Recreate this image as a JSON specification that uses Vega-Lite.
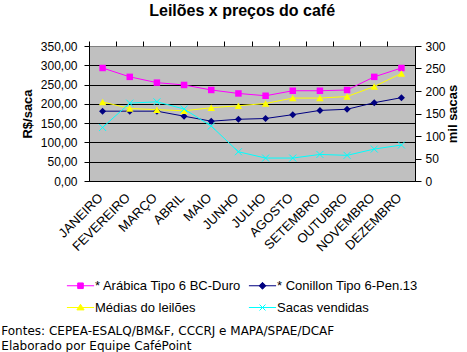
{
  "$schema": "https://vega.github.io/schema/vega-lite/v6.json",
  "background": "white",
  "padding": {"left": 0, "top": 2, "right": 0, "bottom": 0},
  "autosize": {"type": "pad"},
  "config": {"font": "Liberation Sans", "view": {"stroke": null}, "concat": {"spacing": 0}},
  "title": {"text": "Leilões x preços do café", "fontSize": 16, "fontWeight": "bold", "font": "Liberation Sans", "color": "black", "anchor": "middle", "offset": 21, "dx": 12},
  "datasets": {
    "d": [
      {"mes": "JANEIRO", "serie": "* Arábica  Tipo 6 BC-Duro", "valor": 293},
      {"mes": "FEVEREIRO", "serie": "* Arábica  Tipo 6 BC-Duro", "valor": 270},
      {"mes": "MARÇO", "serie": "* Arábica  Tipo 6 BC-Duro", "valor": 255},
      {"mes": "ABRIL", "serie": "* Arábica  Tipo 6 BC-Duro", "valor": 249},
      {"mes": "MAIO", "serie": "* Arábica  Tipo 6 BC-Duro", "valor": 236},
      {"mes": "JUNHO", "serie": "* Arábica  Tipo 6 BC-Duro", "valor": 227},
      {"mes": "JULHO", "serie": "* Arábica  Tipo 6 BC-Duro", "valor": 221},
      {"mes": "AGOSTO", "serie": "* Arábica  Tipo 6 BC-Duro", "valor": 234},
      {"mes": "SETEMBRO", "serie": "* Arábica  Tipo 6 BC-Duro", "valor": 234},
      {"mes": "OUTUBRO", "serie": "* Arábica  Tipo 6 BC-Duro", "valor": 236},
      {"mes": "NOVEMBRO", "serie": "* Arábica  Tipo 6 BC-Duro", "valor": 270},
      {"mes": "DEZEMBRO", "serie": "* Arábica  Tipo 6 BC-Duro", "valor": 293},
      {"mes": "JANEIRO", "serie": "* Conillon Tipo 6-Pen.13", "valor": 181},
      {"mes": "FEVEREIRO", "serie": "* Conillon Tipo 6-Pen.13", "valor": 181},
      {"mes": "MARÇO", "serie": "* Conillon Tipo 6-Pen.13", "valor": 181},
      {"mes": "ABRIL", "serie": "* Conillon Tipo 6-Pen.13", "valor": 168},
      {"mes": "MAIO", "serie": "* Conillon Tipo 6-Pen.13", "valor": 155},
      {"mes": "JUNHO", "serie": "* Conillon Tipo 6-Pen.13", "valor": 160},
      {"mes": "JULHO", "serie": "* Conillon Tipo 6-Pen.13", "valor": 162},
      {"mes": "AGOSTO", "serie": "* Conillon Tipo 6-Pen.13", "valor": 172},
      {"mes": "SETEMBRO", "serie": "* Conillon Tipo 6-Pen.13", "valor": 183},
      {"mes": "OUTUBRO", "serie": "* Conillon Tipo 6-Pen.13", "valor": 186},
      {"mes": "NOVEMBRO", "serie": "* Conillon Tipo 6-Pen.13", "valor": 203},
      {"mes": "DEZEMBRO", "serie": "* Conillon Tipo 6-Pen.13", "valor": 216},
      {"mes": "JANEIRO", "serie": "Médias do leilões", "valor": 205},
      {"mes": "FEVEREIRO", "serie": "Médias do leilões", "valor": 188},
      {"mes": "MARÇO", "serie": "Médias do leilões", "valor": 185},
      {"mes": "ABRIL", "serie": "Médias do leilões", "valor": 182},
      {"mes": "MAIO", "serie": "Médias do leilões", "valor": 190},
      {"mes": "JUNHO", "serie": "Médias do leilões", "valor": 195},
      {"mes": "JULHO", "serie": "Médias do leilões", "valor": 201},
      {"mes": "AGOSTO", "serie": "Médias do leilões", "valor": 215},
      {"mes": "SETEMBRO", "serie": "Médias do leilões", "valor": 215},
      {"mes": "OUTUBRO", "serie": "Médias do leilões", "valor": 219},
      {"mes": "NOVEMBRO", "serie": "Médias do leilões", "valor": 245},
      {"mes": "DEZEMBRO", "serie": "Médias do leilões", "valor": 279},
      {"mes": "JANEIRO", "serie": "Sacas vendidas", "valor": 119},
      {"mes": "FEVEREIRO", "serie": "Sacas vendidas", "valor": 173},
      {"mes": "MARÇO", "serie": "Sacas vendidas", "valor": 176},
      {"mes": "ABRIL", "serie": "Sacas vendidas", "valor": 160},
      {"mes": "MAIO", "serie": "Sacas vendidas", "valor": 122},
      {"mes": "JUNHO", "serie": "Sacas vendidas", "valor": 65},
      {"mes": "JULHO", "serie": "Sacas vendidas", "valor": 51},
      {"mes": "AGOSTO", "serie": "Sacas vendidas", "valor": 51},
      {"mes": "SETEMBRO", "serie": "Sacas vendidas", "valor": 59},
      {"mes": "OUTUBRO", "serie": "Sacas vendidas", "valor": 57},
      {"mes": "NOVEMBRO", "serie": "Sacas vendidas", "valor": 71},
      {"mes": "DEZEMBRO", "serie": "Sacas vendidas", "valor": 80}
    ]
  },
  "vconcat": [
    {
      "width": 326,
      "height": 135,
      "view": {"fill": "#C0C0C0", "stroke": "#808080"},
      "title": {
        "text": ["Fontes: CEPEA-ESALQ/BM&F, CCCRJ e MAPA/SPAE/DCAF", "Elaborado por Equipe CaféPoint"],
        "orient": "bottom",
        "anchor": "start",
        "frame": "bounds",
        "font": "DejaVu Sans",
        "fontSize": 12,
        "fontWeight": "normal",
        "color": "black",
        "lineHeight": 15,
        "offset": 72,
        "dx": -20
      },
      "data": {"name": "d"},
      "layer": [
        {
          "transform": [{"filter": "datum.serie !== 'Sacas vendidas'"}],
          "encoding": {
            "x": {
              "field": "mes", "type": "ordinal",
              "sort": ["JANEIRO", "FEVEREIRO", "MARÇO", "ABRIL", "MAIO", "JUNHO", "JULHO", "AGOSTO", "SETEMBRO", "OUTUBRO", "NOVEMBRO", "DEZEMBRO"],
              "scale": {"type": "band", "paddingInner": 0, "paddingOuter": 0},
              "axis": {"title": null, "ticks": false, "domain": true, "domainColor": "black", "labelAngle": -45, "labelFont": "Liberation Sans", "labelFontSize": 13, "labelColor": "black", "labelPadding": 10, "labelOffset": -6, "grid": false}
            },
            "y": {
              "field": "valor", "type": "quantitative",
              "scale": {"domain": [0, 350], "nice": false},
              "axis": {
                "orient": "left", "title": "R$/saca", "titleFont": "Liberation Sans", "titleFontSize": 13, "titleFontWeight": "bold", "titleColor": "black", "titlePadding": 6,
                "values": [0, 50, 100, 150, 200, 250, 300, 350],
                "labelExpr": "replace(format(datum.value, '.2f'), '.', ',')",
                "labelFont": "Liberation Sans", "labelFontSize": 12, "labelColor": "black", "labelPadding": 7,
                "tickSize": 5, "tickColor": "black", "domainColor": "black",
                "grid": true, "gridColor": {"condition": {"test": "datum.value >= 350", "value": "#808080"}, "value": "black"}, "gridOpacity": 1
              }
            }
          },
          "layer": [
            {
              "transform": [{"filter": "datum.serie === '* Arábica  Tipo 6 BC-Duro'"}],
              "mark": {"type": "line", "strokeWidth": 1, "color": "#FF00FF"},
              "encoding": {}
            },
            {
              "transform": [{"filter": "datum.serie === '* Conillon Tipo 6-Pen.13'"}],
              "mark": {"type": "line", "strokeWidth": 1, "color": "#000080"},
              "encoding": {}
            },
            {
              "transform": [{"filter": "datum.serie === 'Médias do leilões'"}],
              "mark": {"type": "line", "strokeWidth": 1, "color": "#FFFF00"},
              "encoding": {}
            },
            {
              "transform": [{"filter": "datum.serie === '* Arábica  Tipo 6 BC-Duro'"}],
              "mark": {"type": "point", "shape": "square", "filled": true, "color": "#FF00FF", "size": 42, "opacity": 1}
            },
            {
              "transform": [{"filter": "datum.serie === '* Conillon Tipo 6-Pen.13'"}],
              "mark": {"type": "point", "shape": "diamond", "filled": true, "color": "#000080", "size": 49, "opacity": 1}
            },
            {
              "transform": [{"filter": "datum.serie === 'Médias do leilões'"}],
              "mark": {"type": "point", "shape": "triangle-up", "filled": true, "color": "#FFFF00", "size": 56, "opacity": 1}
            }
          ]
        },
        {
          "transform": [{"filter": "datum.serie === 'Sacas vendidas'"}],
          "encoding": {
            "x": {
              "field": "mes", "type": "ordinal",
              "sort": ["JANEIRO", "FEVEREIRO", "MARÇO", "ABRIL", "MAIO", "JUNHO", "JULHO", "AGOSTO", "SETEMBRO", "OUTUBRO", "NOVEMBRO", "DEZEMBRO"],
              "axis": {"title": null, "labels": false, "domain": false, "ticks": true, "tickSize": 5, "tickColor": "black", "bandPosition": 0, "grid": false}
            },
            "y": {
              "field": "valor", "type": "quantitative",
              "scale": {"domain": [0, 300], "nice": false},
              "axis": {
                "orient": "right", "title": "mil sacas", "titleAngle": 270, "titleFont": "Liberation Sans", "titleFontSize": 13, "titleFontWeight": "bold", "titleColor": "black", "titlePadding": 14,
                "values": [0, 50, 100, 150, 200, 250, 300], "format": "d",
                "labelFont": "Liberation Sans", "labelFontSize": 12, "labelColor": "black", "labelPadding": 4,
                "tickSize": 6, "tickColor": "black", "domainColor": "black", "grid": false
              }
            }
          },
          "layer": [
            {
              "mark": {"type": "line", "strokeWidth": 1, "color": "#00FFFF"},
              "encoding": {}
            },
            {
              "mark": {"type": "point", "shape": "M-1,-1L1,1M-1,1L1,-1", "filled": false, "color": "#00FFFF", "size": 49, "strokeWidth": 1, "opacity": 1}
            }
          ]
        },
        {
          "mark": {"type": "point", "filled": true, "opacity": 0},
          "encoding": {
            "x": {"field": "mes", "type": "ordinal",
              "sort": ["JANEIRO", "FEVEREIRO", "MARÇO", "ABRIL", "MAIO", "JUNHO", "JULHO", "AGOSTO", "SETEMBRO", "OUTUBRO", "NOVEMBRO", "DEZEMBRO"],
              "axis": null},
            "color": {
              "field": "serie", "type": "nominal",
              "scale": {"domain": ["* Arábica  Tipo 6 BC-Duro", "* Conillon Tipo 6-Pen.13", "Médias do leilões", "Sacas vendidas"], "range": ["#FF00FF", "#000080", "#FFFF00", "#00FFFF"]},
              "legend": {
                "orient": "none", "legendX": -15, "legendY": 233, "columns": 2, "direction": "horizontal", "title": null,
                "labelFont": "Liberation Sans", "labelFontSize": 13, "labelColor": "black",
                "symbolSize": 64, "symbolStrokeWidth": 1, "rowPadding": 8, "columnPadding": 1, "labelOffset": 8,
                "encode": {"symbols": {"update": {"fill": {"scale": "color", "field": "value"}, "stroke": {"scale": "color", "field": "value"}, "strokeWidth": {"value": 1}, "opacity": {"value": 1}}}}
              }
            },
            "shape": {
              "field": "serie", "type": "nominal",
              "scale": {"domain": ["* Arábica  Tipo 6 BC-Duro", "* Conillon Tipo 6-Pen.13", "Médias do leilões", "Sacas vendidas"],
                "range": [
                  "M-3.4,0L3.4,0M-0.7,-0.7L0.7,-0.7L0.7,0.7L-0.7,0.7Z",
                  "M-3.4,0L3.4,0M-0.85,0L0,-0.85L0.85,0L0,0.85Z",
                  "M-3.4,0L3.4,0M0,-0.8L0.9,0.6L-0.9,0.6Z",
                  "M-3.4,0L3.4,0M-0.75,-0.75L0.75,0.75M-0.75,0.75L0.75,-0.75"
                ]}
            }
          }
        }
      ],
      "resolve": {"scale": {"y": "independent"}, "axis": {"x": "independent"}}
    }
  ]
}
